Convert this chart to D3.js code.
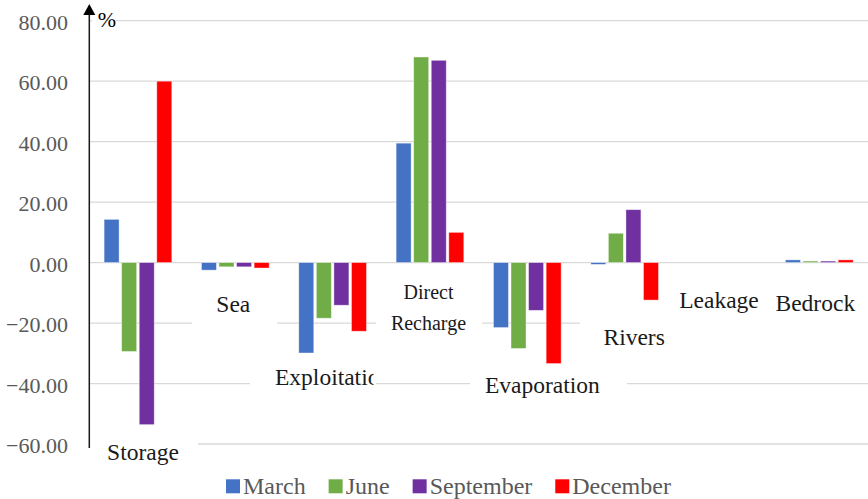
<!DOCTYPE html>
<html>
<head>
<meta charset="utf-8">
<script src="https://cdn.jsdelivr.net/npm/d3@7"></script>
<style>
  body { margin: 0; background: #fff; }
  svg { display: block; }
  text { font-family: "Liberation Serif", "Times New Roman", serif; }
</style>
</head>
<body>
<div id="chart"></div>
<script>
// categories and series
const categories = ["Storage", "Sea", "Exploitation", "Direct Recharge", "Evaporation", "Rivers", "Leakage", "Bedrock"];
const seriesNames = ["March", "June", "September", "December"];
const march     = [14.3, -2.5, -29.9, 39.5, -21.5, -0.6, 0, 0.9];
const june      = [-29.4, -1.4, -18.4, 68.0, -28.4, 9.7, 0, 0.5];
const september = [-53.6, -1.4, -14.1, 66.9, -15.8, 17.5, 0, 0.5];
const december  = [60.0, -1.8, -22.7, 10.0, -33.4, -12.4, 0, 0.9];
const yTicks = [-60, -40, -20, 0, 20, 40, 60, 80];

const colors = ["#4472c4", "#70ad47", "#7030a0", "#ff0000"];
const seriesValues = [march, june, september, december];

const W = 868, H = 499;
const margin = { top: 20.7, right: 0, bottom: 55, left: 89.3 };

const svg = d3.select("#chart").append("svg")
  .attr("width", W).attr("height", H);

// scales
const x0 = d3.scaleBand().domain(categories).range([margin.left, W - margin.right]).padding(0);
const x1 = d3.scaleBand().domain(seriesNames).range([14.8, 82.5]).paddingInner(0.146).paddingOuter(0);
const y = d3.scaleLinear().domain([-60, 80]).range([444, margin.top]);

// gridlines
svg.append("g").selectAll("line")
  .data(yTicks)
  .join("line")
  .attr("x1", margin.left).attr("x2", W)
  .attr("y1", d => y(d)).attr("y2", d => y(d))
  .attr("stroke", "#d9d9d9").attr("stroke-width", 1.3);

// y tick labels
const yAxis = d3.axisLeft(y).tickValues(yTicks).tickFormat(d3.format(".2f")).tickSize(0).tickPadding(0);
const yG = svg.append("g").attr("transform", "translate(68,0)").call(yAxis);
yG.select(".domain").remove();
yG.selectAll("text")
  .attr("font-family", '"Liberation Serif", "Times New Roman", serif')
  .attr("font-size", 22).attr("fill", "#595959")
  .attr("dy", null).attr("y", 8.5);

// white label boxes (text boxes hide the gridlines behind them)
const labelBoxes = [
  [90, 428, 108, 40], [192, 288, 85, 40], [250, 362, 126, 36],
  [376, 280, 106, 54], [470, 366, 157, 36], [580, 318, 100, 36],
  [670, 284, 95, 44], [765, 284, 103, 44], [92, 5, 24, 24]
];
svg.append("g").selectAll("rect")
  .data(labelBoxes)
  .join("rect")
  .attr("x", d => d[0]).attr("y", d => d[1])
  .attr("width", d => d[2]).attr("height", d => d[3])
  .attr("fill", "#fff");

// bars
const barData = [];
categories.forEach((c, i) => {
  seriesNames.forEach((s, j) => {
    barData.push({ cat: c, series: s, value: seriesValues[j][i], color: colors[j] });
  });
});

svg.append("g").selectAll("rect")
  .data(barData)
  .join("rect")
  .attr("x", d => x0(d.cat) + x1(d.series))
  .attr("width", x1.bandwidth())
  .attr("y", d => y(Math.max(0, d.value)))
  .attr("height", d => Math.abs(y(d.value) - y(0)))
  .attr("fill", d => d.color)
  .attr("stroke", "#fff").attr("stroke-opacity", 0.5).attr("stroke-width", 0.8);

// y axis line with arrow
svg.append("line")
  .attr("x1", margin.left).attr("x2", margin.left)
  .attr("y1", 448).attr("y2", 13)
  .attr("stroke", "#1a1a1a").attr("stroke-width", 1.5);
svg.append("path")
  .attr("d", `M${margin.left - 6},15 L${margin.left},4 L${margin.left + 6},15 Z`)
  .attr("fill", "#000");
svg.append("text")
  .attr("x", 97.7).attr("y", 26.7)
  .attr("font-size", 22).attr("fill", "#000")
  .text("%");

// category labels: dx from band centre, baseline y
const labelLayout = [
  { dx: 5, y: [459.5], size: 23.5 },
  { dx: -2, y: [312], size: 23.5 },
  { dx: null, y: [385], size: 23.5 },
  { dx: -1.5, y: [299.3, 330], size: 20 },
  { dx: 15, y: [393.3], size: 23.5 },
  { dx: 9.5, y: [345], size: 23.5 },
  { dx: -3, y: [308.3], size: 23.5 },
  { dx: -4, y: [310.7], size: 23.5 }
];

svg.append("defs").append("clipPath").attr("id", "clipExp")
  .append("rect").attr("x", 250).attr("y", 360).attr("width", 123.5).attr("height", 40);

const labG = svg.append("g");
categories.forEach((c, i) => {
  const L = labelLayout[i];
  const cx = x0(c) + x0.bandwidth() / 2;
  const lines = L.y.length > 1 ? c.split(" ") : [c];
  lines.forEach((t, k) => {
    const txt = labG.append("text")
      .attr("y", L.y[k])
      .attr("font-size", L.size)
      .attr("fill", "#1a1a1a")
      .text(t);
    if (L.dx === null) {
      // text box narrower than the word, so it is cut on the right
      txt.attr("x", 275).attr("clip-path", "url(#clipExp)");
    } else {
      txt.attr("x", cx + L.dx).attr("text-anchor", "middle");
    }
  });
});

// legend
const legend = svg.append("g");
let lx = 226;
seriesNames.forEach((s, j) => {
  legend.append("rect")
    .attr("x", lx).attr("y", 479.3)
    .attr("width", 14).attr("height", 14)
    .attr("fill", colors[j]);
  const t = legend.append("text")
    .attr("x", lx + 17).attr("y", 493.5)
    .attr("font-size", 24).attr("fill", "#595959")
    .text(s);
  lx += 17 + t.node().getComputedTextLength() + 23;
});
</script>
</body>
</html>
